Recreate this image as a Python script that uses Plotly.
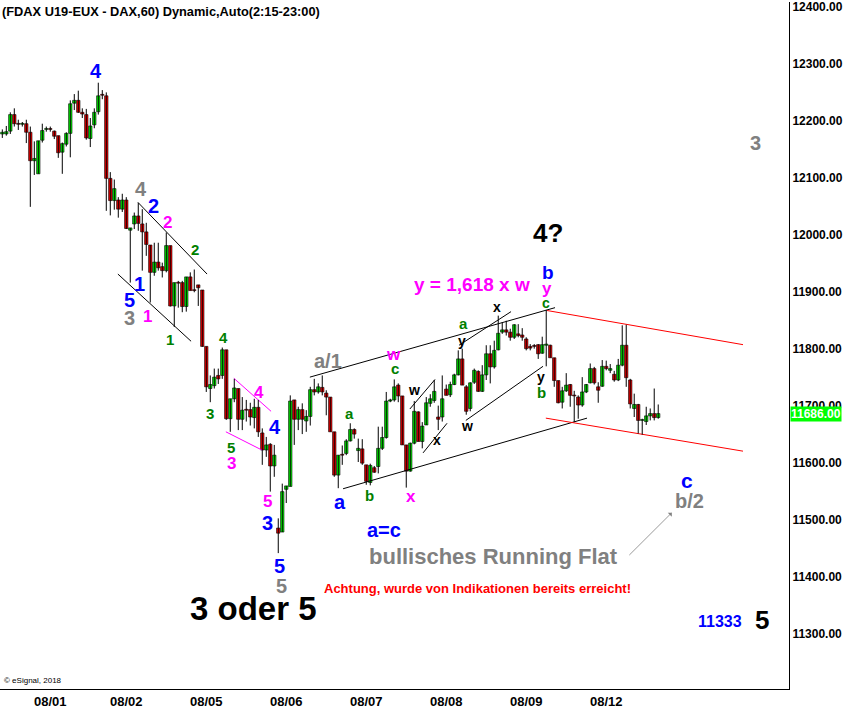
import plotly.graph_objects as go

# ---------------- data ----------------
opens = [12177,12177,12182,12211,12195,12194,12195,12180,12130,12107,
         12166,12185,12186,12182,12174,12145,12159,12178,12231,12236,
         12215,12211,12169,12193,12216,12246,12244,12099,12060,12061,
         12045,12061,12008,12019,12033,12019,12005,11982,11934,11952,
         11944,11937,11981,11875,11916,11916,11874,11926,11903,11912,
         11903,11804,11730,11735,11753,11753,11798,11677,11712,11730,
         11676,11693,11693,11679,11697,11652,11622,11632,11594,11485,
         11478,11553,11558,11710,11676,11693,11673,11681,11728,11724,
         11732,11722,11715,11654,11578,11614,11616,11638,11658,11621,
         11624,11596,11565,11591,11593,11625,11644,11708,11710,11736,
         11717,11631,11585,11634,11689,11637,11666,11704,11709,11680,
         11680,11729,11719,11737,11754,11782,11733,11695,11741,11760,
         11725,11754,11791,11768,11798,11829,11833,11829,11820,11826,
         11824,11817,11804,11805,11807,11792,11806,11806,11784,11744,
         11706,11726,11737,11718,11715,11701,11724,11740,11765,11733,
         11734,11769,11762,11755,11745,11771,11806,11745,11695,11702,
         11674,11672,11682,11686,11679]
highs = [12185,12191,12215,12222,12202,12198,12202,12190,12164,12165,
         12195,12190,12190,12183,12174,12162,12180,12236,12247,12253,
         12222,12221,12205,12222,12267,12254,12250,12110,12097,12066,
         12072,12066,12012,12039,12056,12045,12021,11982,11986,11986,
         11951,12004,11981,11916,11919,11919,11926,11934,11939,11912,
         11903,11804,11753,11765,11765,11802,11798,11712,11747,11730,
         11715,11710,11705,11712,11710,11660,11645,11634,11631,11502,
         11563,11559,11718,11710,11698,11704,11692,11733,11747,11739,
         11753,11727,11715,11654,11613,11630,11641,11669,11660,11642,
         11641,11596,11598,11594,11663,11663,11724,11712,11746,11739,
         11717,11631,11635,11708,11690,11671,11715,11720,11745,11700,
         11753,11737,11742,11756,11797,11800,11736,11741,11765,11762,
         11771,11806,11806,11814,11858,11846,11849,11835,11843,11843,
         11836,11820,11808,11808,11808,11821,11868,11807,11784,11744,
         11733,11757,11738,11726,11718,11750,11738,11774,11768,11741,
         11780,11779,11773,11761,11782,11841,11842,11747,11721,11703,
         11677,11698,11695,11730,11702]
lows = [12170,12174,12177,12190,12184,12190,12161,12049,12105,12107,
        12162,12181,12181,12168,12135,12107,12155,12136,12219,12214,
        12205,12167,12154,12187,12211,12238,12042,12034,12044,12030,
        12040,12010,11916,12010,12007,11937,11963,11881,11928,11937,
        11925,11934,11874,11838,11872,11864,11865,11902,11899,11875,
        11803,11724,11706,11730,11738,11747,11675,11654,11706,11657,
        11657,11672,11665,11660,11645,11596,11610,11549,11575,11441,
        11478,11529,11558,11631,11657,11650,11654,11665,11718,11721,
        11718,11683,11654,11575,11555,11596,11613,11637,11642,11601,
        11596,11561,11560,11582,11581,11622,11642,11706,11707,11706,
        11631,11556,11584,11632,11637,11625,11666,11698,11705,11657,
        11672,11718,11715,11736,11753,11736,11684,11690,11738,11724,
        11724,11745,11739,11765,11797,11826,11823,11814,11817,11820,
        11814,11797,11797,11800,11782,11791,11769,11784,11733,11704,
        11695,11724,11698,11671,11677,11698,11722,11739,11737,11705,
        11733,11762,11757,11742,11743,11769,11733,11695,11680,11651,
        11649,11666,11674,11674,11677]
closes = [12180,12181,12211,12195,12194,12195,12180,12130,12134,12165,
          12183,12186,12185,12173,12144,12160,12178,12230,12236,12215,
          12212,12170,12191,12215,12244,12245,12099,12060,12081,12045,
          12061,12011,12012,12033,12020,12005,11983,11934,11952,11942,
          11937,11981,11875,11916,11915,11874,11926,11902,11902,11907,
          11804,11733,11737,11750,11747,11798,11677,11712,11731,11676,
          11692,11692,11680,11697,11654,11622,11631,11594,11613,11476,
          11549,11559,11708,11676,11693,11676,11681,11728,11724,11733,
          11724,11715,11654,11578,11613,11613,11638,11658,11650,11625,
          11599,11567,11595,11583,11625,11644,11708,11710,11733,11717,
          11631,11585,11634,11690,11637,11664,11705,11712,11725,11676,
          11712,11718,11737,11754,11782,11736,11690,11740,11762,11725,
          11754,11791,11768,11797,11827,11833,11829,11820,11842,11823,
          11820,11800,11801,11804,11791,11807,11808,11784,11744,11705,
          11726,11736,11718,11717,11701,11724,11737,11765,11740,11727,
          11769,11765,11765,11745,11771,11806,11749,11703,11702,11674,
          11675,11682,11686,11679,11686]

day_labels = ["08/01", "08/02", "08/05", "08/06", "08/07", "08/08", "08/09", "08/12"]
day_start_bar = [12, 31, 51, 71, 91, 111, 131, 151]
price_ticks = [11300, 11400, 11500, 11600, 11700, 11800, 11900, 12000, 12100, 12200, 12300, 12400]
last_price = closes[-1]

# trend lines: (bar index, price) pairs
black_lines = [
    [(33.9, 12057), (51.2, 11931)],
    [(28.9, 11931), (47.2, 11813)],
    [(76.9, 11750), (138.2, 11872)],
    [(85.2, 11554), (146.2, 11678)],
    [(101.9, 11694), (108.2, 11746)],
    [(105.2, 11617), (111.2, 11669)],
    [(114.2, 11806), (127.2, 11865)],
    [(115.9, 11674), (135.2, 11769)],
]
magenta_lines = [
    [(57.9, 11748), (67.2, 11690)],
    [(55.9, 11654), (64.9, 11622)],
]
red_lines = [
    [(136.2, 11867), (185.2, 11807)],
    [(135.9, 11678), (185.2, 11620)],
]

BLUE, MAG, GRAY, GREEN, BLACK = "#0000ff", "#ff00ff", "#808080", "#008000", "#000000"
# (text, bar index, price, colour, size)
labels = [
    ("4", 23.4, 12288, BLUE, 20), ("4", 34.7, 12080, GRAY, 20), ("2", 37.7, 12050, BLUE, 20),
    ("2", 41.2, 12021, MAG, 17), ("2", 48.2, 11975, GREEN, 15), ("1", 34.4, 11914, BLUE, 20),
    ("5", 31.7, 11886, BLUE, 20), ("3", 31.7, 11853, GRAY, 20), ("1", 36.2, 11856, MAG, 17),
    ("1", 41.9, 11816, GREEN, 15), ("4", 55.2, 11820, GREEN, 15), ("3", 51.9, 11687, GREEN, 15),
    ("4", 64.2, 11723, MAG, 17), ("5", 57.2, 11626, GREEN, 15), ("3", 57.2, 11599, MAG, 17),
    ("4", 68.2, 11663, BLUE, 20), ("5", 66.2, 11531, MAG, 17), ("3", 66.4, 11494, BLUE, 20),
    ("5", 69.4, 11419, BLUE, 20), ("5", 69.7, 11383, GRAY, 20), ("3 oder 5", 62.9, 11344, BLACK, 33),
    ("a/1", 81.4, 11779, GRAY, 20), ("a", 86.9, 11687, GREEN, 15), ("a", 84.4, 11531, BLUE, 20),
    ("b", 91.9, 11543, GREEN, 15), ("a=c", 95.4, 11482, BLUE, 20), ("w", 97.9, 11790, MAG, 17),
    ("c", 98.2, 11765, GREEN, 15), ("w", 102.9, 11727, BLACK, 14), ("x", 108.7, 11640, BLACK, 14),
    ("x", 102.2, 11540, MAG, 17), ("a", 115.2, 11844, GREEN, 15), ("y", 114.9, 11814, BLACK, 14),
    ("w", 116.2, 11664, BLACK, 14), ("x", 123.7, 11874, BLACK, 14), ("y = 1,618 x w", 117.5, 11912, MAG, 19),
    ("4?", 136.4, 12003, BLACK, 26), ("b", 136.4, 11933, BLUE, 19), ("y", 136.2, 11905, MAG, 17),
    ("c", 135.9, 11881, GREEN, 14), ("y", 134.7, 11750, BLACK, 14), ("b", 134.7, 11723, GREEN, 15),
    ("3", 188.4, 12162, GRAY, 20), ("c", 171.2, 11568, BLUE, 21), ("b/2", 171.7, 11533, GRAY, 20),
    ("bullisches Running Flat", 122.7, 11435, GRAY, 22),
    ("Achtung, wurde von Indikationen bereits erreicht!", 118.9, 11379, "#ff0000", 13),
    ("11333", 179.4, 11321, BLUE, 16), ("5", 189.9, 11323, BLACK, 26),
]
arrow_from = (156.4, 11435)
arrow_to = (167.4, 11512)

FONT = "Liberation Sans, Arial, sans-serif"

fig = go.Figure()

# trend lines
def add_lines(lines, color):
    xs, ys = [], []
    for (a, b) in lines:
        xs += [a[0], b[0], None]
        ys += [a[1], b[1], None]
    fig.add_trace(go.Scatter(x=xs, y=ys, mode="lines", line=dict(color=color, width=1),
                             hoverinfo="skip", showlegend=False))

add_lines(black_lines, "black")
add_lines(magenta_lines, MAG)
add_lines(red_lines, "#ff0000")

# wicks
wx, wy = [], []
for i in range(len(opens)):
    wx += [i, i, None]
    wy += [lows[i], highs[i], None]
fig.add_trace(go.Scatter(x=wx, y=wy, mode="lines", line=dict(color="black", width=1),
                         hoverinfo="skip", showlegend=False))

# bodies
for up, col in ((True, "#00ff00"), (False, "#ff0000")):
    xs, bases, hs = [], [], []
    for i in range(len(opens)):
        o, c = opens[i], closes[i]
        if (c >= o) == up:
            xs.append(i)
            bases.append(min(o, c))
            hs.append(max(abs(c - o), 1.5))
    fig.add_trace(go.Bar(x=xs, y=hs, base=bases, width=0.85,
                         marker=dict(color=col, line=dict(color="black", width=0.6)),
                         showlegend=False, hoverinfo="skip"))

annos = []
for (t, x, y, col, sz) in labels:
    annos.append(dict(x=x, y=y, xref="x", yref="y", text="<b>%s</b>" % t, showarrow=False,
                      font=dict(family=FONT, size=sz, color=col), xanchor="center", yanchor="middle"))
annos.append(dict(x=arrow_to[0], y=arrow_to[1], ax=arrow_from[0], ay=arrow_from[1],
                  xref="x", yref="y", axref="x", ayref="y", text="", showarrow=True,
                  arrowhead=1, arrowsize=1.2, arrowwidth=0.8, arrowcolor=GRAY))
annos.append(dict(x=0, y=1, xref="paper", yref="paper", xanchor="left", yanchor="top",
                  text="<b>(FDAX U19-EUX - DAX,60) Dynamic,Auto(2:15-23:00)</b>", showarrow=False,
                  font=dict(family=FONT, size=12.8, color="black")))
annos.append(dict(x=0.002, y=0.0, xref="paper", yref="paper", xanchor="left", yanchor="bottom",
                  text="© eSignal, 2018", showarrow=False, yshift=2,
                  font=dict(family=FONT, size=8, color="black")))
annos.append(dict(x=1, y=last_price, xref="paper", yref="y", xanchor="left", yanchor="middle",
                  text="<b>%.2f</b>" % last_price, showarrow=False, xshift=1,
                  bgcolor="#00ff00", borderpad=0,
                  font=dict(family=FONT, size=12, color="white")))

fig.update_layout(
    width=846, height=709,
    margin=dict(l=0, r=57, t=0, b=19),
    paper_bgcolor="white", plot_bgcolor="white",
    barmode="overlay", showlegend=False,
    annotations=annos,
    xaxis=dict(range=[-0.575, 196.7], showgrid=False, zeroline=False,
               showline=True, linecolor="black", linewidth=1,
               tickmode="array", tickvals=day_start_bar, ticktext=day_labels, ticks="",
               tickfont=dict(family="Liberation Sans Narrow, Arial Narrow, " + FONT, size=13,
                             color="black", weight="bold")),
    yaxis=dict(range=[11202.4, 12408.7], side="right", showgrid=False, zeroline=False,
               showline=True, linecolor="black", linewidth=1, ticklabeloverflow="allow",
               tickmode="array", tickvals=price_ticks,
               ticktext=["%.2f" % v for v in price_ticks], ticks="",
               tickfont=dict(family=FONT, size=12, color="black", weight="bold")),
)

fig.write_html("out.html", config={"displayModeBar": False},
               post_script="document.body.style.margin='0px';document.body.style.overflow='hidden';")
